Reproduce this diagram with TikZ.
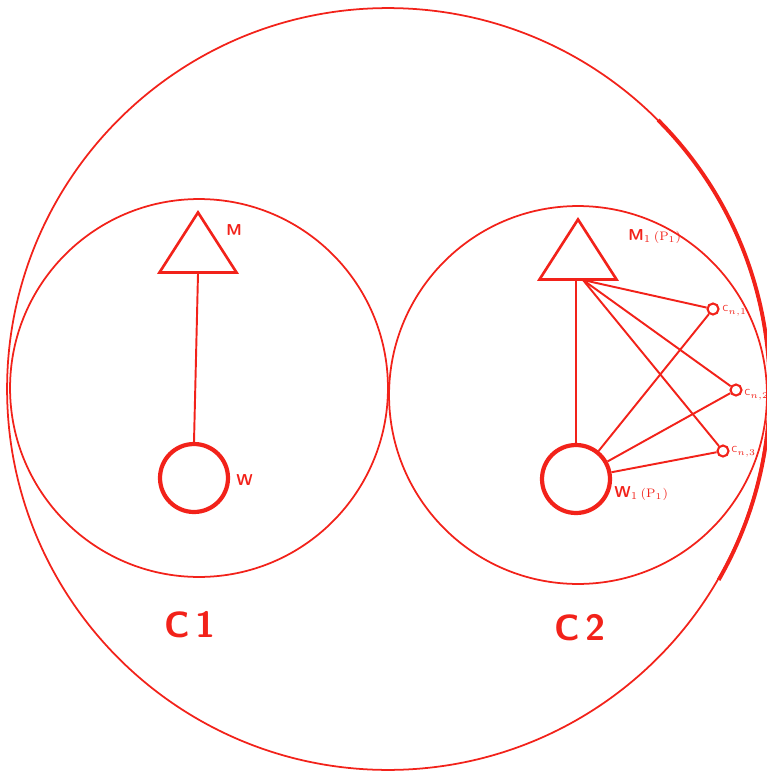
\documentclass[tikz,border=0pt]{standalone}
\usepackage{xcolor}
\definecolor{inkRed}{HTML}{F2221A}
\usepackage{tikz}
\usetikzlibrary{shapes.geometric,positioning}
\tikzset{
  bigring/.style={
    draw=inkRed,
    circle,
    inner sep=0pt,
    line width=1pt
  },
  mtri/.style={
    draw=inkRed,
    isosceles triangle,
    isosceles triangle stretches=true,
    shape border rotate=90,
    minimum width=1.54cm,
    minimum height=1.2cm,
    inner sep=0pt,
    line width=1.5pt
  },
  wring/.style={
    draw=inkRed,
    circle,
    minimum size=1.36cm,
    inner sep=0pt,
    line width=2.4pt
  },
  cdot/.style={
    draw=inkRed,
    circle,
    minimum size=0.22cm,
    inner sep=0pt,
    line width=1.2pt
  },
  tag/.style={
    text=inkRed,
    font=\sffamily\bfseries\small,
    anchor=west,
    inner sep=0pt
  },
  tinytag/.style={
    text=inkRed,
    font=\sffamily\fontsize{5}{6}\selectfont,
    anchor=west,
    inner sep=0pt
  },
  bigtag/.style={
    text=inkRed,
    font=\sffamily\bfseries\huge,
    inner sep=0pt
  },
  link/.style={
    draw=inkRed,
    line width=1.1pt
  }
}

\begin{document}
\begin{tikzpicture}[x=0.02cm,y=-0.02cm]
  \useasboundingbox (0,0) rectangle (767,774);
  % rings
  \node[bigring,minimum size=15.24cm] (outer) at (388,389) {};
  \draw[inkRed,line width=2.2pt] (outer.-30) arc[start angle=-30,end angle=45,radius=7.62cm];
  \node[bigring,minimum size=7.56cm] (cone) at (199,388) {};
  \node[bigring,minimum size=7.56cm] (ctwo) at (578,395) {};
  % C1
  \node[mtri,anchor=apex] (mone) at (198,209) {};
  \node[wring] (wone) at (194,478) {};
  \node[tag] (mlab) at (226,230) {M};
  \node[tag] (wlab) at (236,480) {W};
  \draw[link] (mone.lower side) -- (wone.north);
  % C2
  \node[mtri,anchor=apex] (mtwo) at (578,216) {};
  \node[wring] (wtwo) at (576,479) {};
  \node[tag] (mtwolab) at (628,237) {M$_1$\,{\normalfont\scriptsize(P$_1$)}};
  \node[tag] (wtwolab) at (614,494) {W$_1$\,{\normalfont\scriptsize(P$_1$)}};
  \coordinate (hub) at (583,280);
  \node[cdot] (cnone) at (713,309) {};
  \node[cdot] (cntwo) at (736,390) {};
  \node[cdot] (cnthree) at (723,451) {};
  \node[tinytag] (cnonelab) at (722,311) {C$_{n,1}$};
  \node[tinytag] (cntwolab) at (744,395) {C$_{n,2}$};
  \node[tinytag] (cnthreelab) at (731,452) {C$_{n,3}$};
  \draw[link] (wtwo.north) -- (wtwo.north |- mtwo.lower side);
  \foreach \target in {cnone,cntwo,cnthree}{\draw[link] (hub) -- (\target); \draw[link] (wtwo) -- (\target);}
  % captions
  \node[bigtag] (conelab) at (190,625) {C\,1};
  \node[bigtag] (ctwolab) at (580,628) {C\,2};
\end{tikzpicture}
\end{document}
